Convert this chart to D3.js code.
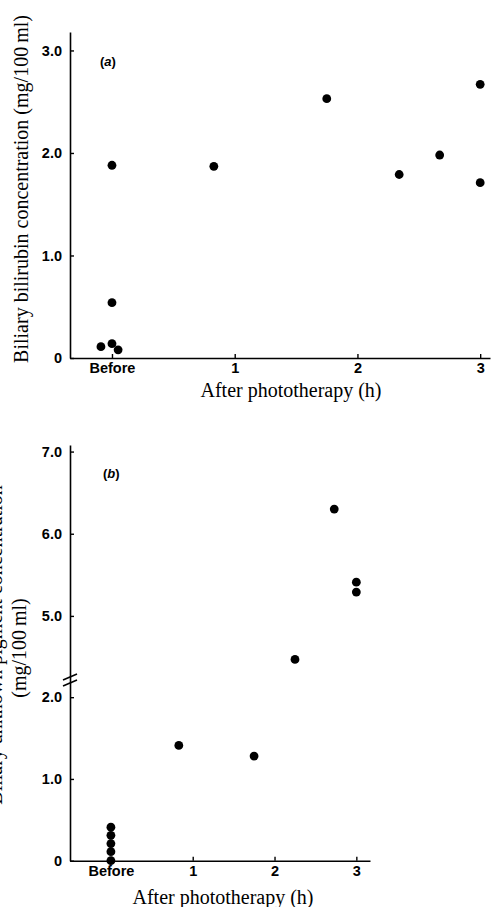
<!DOCTYPE html>
<html lang="en">
<head>
<meta charset="utf-8">
<title>Biliary pigments before and after phototherapy</title>
<script src="https://cdn.jsdelivr.net/npm/d3@7"></script>
<style>
  body { margin: 0; background: #fff; }
  .tick text { font-family: "Liberation Sans", Arial, sans-serif; font-weight: bold; font-size: 14.5px; fill: #000; }
  .axlab { font-family: "Liberation Serif", "Times New Roman", serif; font-size: 20px; fill: #000; }
</style>
</head>
<body>
<script>
// panel (a): biliary bilirubin, hours after phototherapy (0 = before)
var aHours  = [-0.09, 0, 0, 0.05, 0, 0.83, 1.75, 2.34, 2.67, 3.0, 3.0];
var aValues = [0.11, 0.14, 0.54, 0.08, 1.88, 1.87, 2.53, 1.79, 1.98, 2.67, 1.71];
var aTicks  = [0, 1, 2, 3];

// panel (b): biliary unknown pigment
var bHours  = [0, 0, 0, 0, 0, 0.83, 1.75, 2.25, 2.73, 3.0, 3.0];
var bValues = [0, 0.11, 0.21, 0.31, 0.41, 1.41, 1.28, 4.47, 6.3, 5.41, 5.29];
var bTicks  = [0, 1, 2, 5, 6, 7];

var xTicks = [0, 1, 2, 3];
var xFmt = function(d) { return d === 0 ? "Before" : d; };
var yFmt = function(d) { return d === 0 ? "0" : d.toFixed(1); };

var W = 492, H = 907;
var svg = d3.select("body").append("svg")
    .attr("width", W).attr("height", H);

// ---------- panel a ----------
var xA = d3.scaleLinear().domain([-0.342, 3.08]).range([70, 490]);
var yA = d3.scaleLinear().domain([0, 3.18]).range([358, 32]);

svg.append("g").attr("transform", "translate(0," + yA(0) + ")")
    .call(d3.axisBottom(xA).tickValues(xTicks).tickFormat(xFmt)
          .tickSizeInner(-4).tickSizeOuter(0).tickPadding(5));
svg.append("g").attr("transform", "translate(" + xA.range()[0] + ",0)")
    .call(d3.axisLeft(yA).tickValues(aTicks).tickFormat(yFmt)
          .tickSizeInner(-4).tickSizeOuter(0).tickPadding(8));

svg.append("g").selectAll("circle")
    .data(aValues).enter().append("circle")
    .attr("cx", function(d, i) { return xA(aHours[i]); })
    .attr("cy", function(d) { return yA(d); })
    .attr("r", 4.4)
    .attr("fill", "#000");

var la = svg.append("text").attr("x", 100).attr("y", 66)
    .attr("font-family", "Liberation Sans, Arial, sans-serif")
    .attr("font-weight", "bold").attr("font-size", 13);
la.append("tspan").text("(");
la.append("tspan").attr("font-style", "italic").text("a");
la.append("tspan").text(")");

svg.append("text").attr("class", "axlab")
    .attr("transform", "rotate(-90)")
    .attr("x", -189).attr("y", 28)
    .attr("text-anchor", "middle")
    .text("Biliary bilirubin concentration (mg/100\u2009ml)");

svg.append("text").attr("class", "axlab")
    .attr("x", 291).attr("y", 397)
    .attr("text-anchor", "middle")
    .text("After phototherapy (h)");

// ---------- panel b (broken y axis) ----------
var xB = d3.scaleLinear().domain([-0.5, 3.167]).range([70, 370]);
var yB = d3.scaleLinear().domain([0, 2.21, 4.22, 7.08]).range([860.7, 680, 680, 445]);

svg.append("g").attr("transform", "translate(0," + yB(0) + ")")
    .call(d3.axisBottom(xB).tickValues(xTicks).tickFormat(xFmt)
          .tickSizeInner(-4).tickSizeOuter(0).tickPadding(5));
svg.append("g").attr("transform", "translate(" + xB.range()[0] + ",0)")
    .call(d3.axisLeft(yB).tickValues(bTicks).tickFormat(yFmt)
          .tickSizeInner(-4).tickSizeOuter(0).tickPadding(8));

// break marks
var yBreak = yB(3);
svg.append("g").selectAll("line")
    .data([-3, 3]).enter().append("line")
    .attr("x1", 63).attr("x2", 77)
    .attr("y1", function(d) { return yBreak + d + 3; })
    .attr("y2", function(d) { return yBreak + d - 3; })
    .attr("stroke", "#000").attr("stroke-width", 1.6);

svg.append("g").selectAll("circle")
    .data(bValues).enter().append("circle")
    .attr("cx", function(d, i) { return xB(bHours[i]); })
    .attr("cy", function(d) { return yB(d); })
    .attr("r", 4.4)
    .attr("fill", "#000");

var lb = svg.append("text").attr("x", 103).attr("y", 478)
    .attr("font-family", "Liberation Sans, Arial, sans-serif")
    .attr("font-weight", "bold").attr("font-size", 13);
lb.append("tspan").text("(");
lb.append("tspan").attr("font-style", "italic").text("b");
lb.append("tspan").text(")");

svg.append("text").attr("class", "axlab")
    .attr("transform", "rotate(-90)")
    .attr("x", -645).attr("y", 2)
    .attr("text-anchor", "middle")
    .text("Biliary unknown pigment concentration");
svg.append("text").attr("class", "axlab")
    .attr("transform", "rotate(-90)")
    .attr("x", -648).attr("y", 26)
    .attr("text-anchor", "middle")
    .text("(mg/100\u2009ml)");

svg.append("text").attr("class", "axlab")
    .attr("x", 223).attr("y", 904)
    .attr("text-anchor", "middle")
    .text("After phototherapy (h)");

// axis styling
svg.selectAll(".domain").attr("stroke", "#000").attr("stroke-width", 1.6);
svg.selectAll(".tick line").attr("stroke", "#000").attr("stroke-width", 1.4);
</script>
</body>
</html>
